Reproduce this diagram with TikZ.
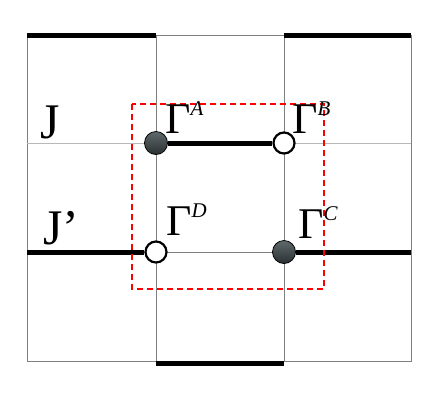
\documentclass[tikz,border=0pt]{standalone}
\usepackage{fontspec}
\setmainfont{Liberation Serif}
\usetikzlibrary{positioning}
\definecolor{sitehigh}{RGB}{95,105,108}
\definecolor{sitedark}{RGB}{14,18,20}
\definecolor{sitelow}{RGB}{42,48,50}
\newcommand{\gsite}[1]{Γ\raisebox{18bp}{\fontsize{21}{21}\selectfont\itshape #1}}
\tikzset{
  grid line/.style={draw=black!50, line width=0.9bp},
  faint line/.style={draw=black!28, line width=0.9bp},
  bond/.style={line width=5bp},
  full site/.style={circle, minimum size=23bp, inner sep=0pt, draw=black, line width=0.8bp,
    top color=sitehigh, middle color=sitedark, bottom color=sitelow},
  empty site/.style={circle, minimum size=21bp, inner sep=0pt, draw=black, line width=2.2bp, fill=white},
  site label/.style={font=\fontsize{44}{44}\selectfont, inner sep=0pt, anchor=base west},
  cell box/.style={draw=red, line width=1.3bp, dash pattern=on 6bp off 4bp}
}
\begin{document}
\begin{tikzpicture}[x=1bp,y=-1bp]
  \useasboundingbox (0,0) rectangle (436,413);
  % lattice
  \coordinate (tl) at (27,35);   \coordinate (tr) at (411,35);
  \coordinate (bl) at (27,361);  \coordinate (br) at (411,361);
  \draw[grid line] (tl) rectangle (br);
  \draw[grid line] (156,35) -- (156,361);
  \draw[grid line] (284,35) -- (284,361);
  \draw[faint line] (27,143) -- (156,143);
  \draw[faint line] (284,143) -- (411,143);
  \draw[grid line] (27,252) -- (411,252);
  % outer bonds
  \draw[bond] (27,35) -- (156,35);
  \draw[bond] (284,35) -- (411,35);
  \draw[bond] (156,363) -- (284,363);
  % sites
  \coordinate (west) at (27,252);
  \coordinate (east) at (411,252);
  \node[full site]  (A) at (156,143) {};
  \node[empty site] (B) at (284,143) {};
  \node[full site]  (C) at (284,252) {};
  \node[empty site] (D) at (156,252) {};
  \draw[bond] (A) -- (B);
  \draw[bond] (west) -- (D);
  \draw[bond] (C) -- (east);
  % unit cell
  \draw[cell box] (132,104) rectangle (324,289);
  % labels
  \node[site label] (gA) at (165,133) {\gsite{A}};
  \node[site label] (gB) at (292,133) {\gsite{B}};
  \node[site label] (gC) at (298,238) {\gsite{C}};
  \node[site label] (gD) at (166,235) {\gsite{D}};
  \node[site label, font=\fontsize{50}{50}\selectfont] (J) at (40,138) {J};
  \node[site label, font=\fontsize{50}{50}\selectfont] (Jp) at (43,244) {J’};
\end{tikzpicture}
\end{document}
